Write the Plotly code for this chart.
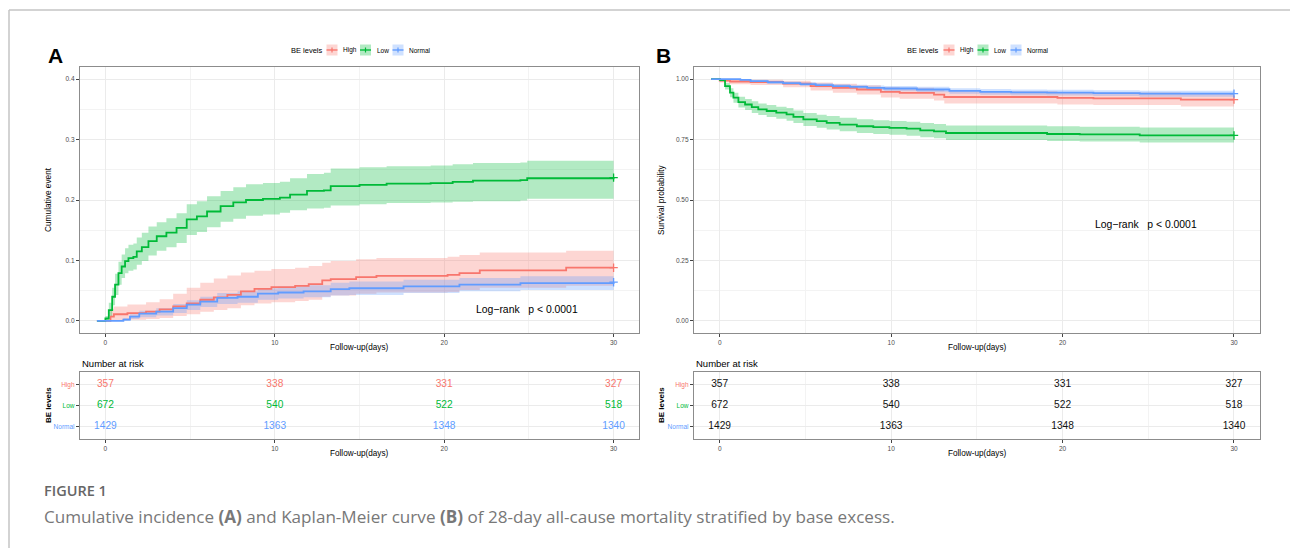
import plotly.graph_objects as go

W, H = 1290, 548

# ---------------- data ----------------
# Panel A: cumulative event
a_low_t = [-0.5, 0, 0.2, 0.4, 0.57, 0.77, 0.96, 1.16, 1.36, 1.65, 1.85, 2.15, 2.54, 3.03, 3.6, 4.2, 4.8, 5.4, 6.0, 6.8,
           7.55, 8.3, 9.3, 10.3, 10.9, 11.9, 12.9, 13.3, 15, 16.6, 19.2, 20.5, 21.7, 24.5, 24.9, 30]
a_low_v = [0.0, 0.004, 0.018, 0.040, 0.060, 0.079, 0.090, 0.099, 0.104, 0.106, 0.115, 0.122, 0.132, 0.140, 0.146, 0.154,
           0.168, 0.173, 0.181, 0.190, 0.196, 0.200, 0.202, 0.204, 0.209, 0.215, 0.216, 0.223, 0.225, 0.227, 0.228, 0.230,
           0.232, 0.233, 0.236, 0.237]
a_low_up = [0.0, 0.008, 0.030, 0.055, 0.078, 0.098, 0.110, 0.120, 0.126, 0.128, 0.138, 0.146, 0.156, 0.163, 0.170, 0.178,
            0.193, 0.198, 0.206, 0.215, 0.221, 0.226, 0.228, 0.230, 0.236, 0.243, 0.245, 0.252, 0.254, 0.256, 0.257, 0.259,
            0.261, 0.262, 0.265, 0.266]
a_low_lo = [0.0, 0.0, 0.008, 0.026, 0.043, 0.060, 0.071, 0.079, 0.083, 0.085, 0.093, 0.099, 0.108, 0.116, 0.122, 0.129,
            0.142, 0.147, 0.155, 0.164, 0.169, 0.174, 0.176, 0.179, 0.183, 0.186, 0.187, 0.191, 0.193, 0.195, 0.196, 0.197,
            0.198, 0.199, 0.202, 0.202]

a_high_t = [-0.5, 0.3, 0.5, 1.3, 2.4, 3.2, 4.0, 4.8, 5.6, 6.4, 7.2, 8.0, 8.8, 9.8, 11.2, 12.0, 12.8, 13.3, 14.8, 16.0,
            20.2, 20.9, 22.1, 27.2, 30]
a_high_v = [0.0, 0.007, 0.011, 0.013, 0.0155, 0.019, 0.024, 0.029, 0.035, 0.039, 0.043, 0.049, 0.053, 0.056, 0.058, 0.061,
            0.067, 0.069, 0.0725, 0.0745, 0.076, 0.079, 0.0835, 0.088, 0.088]
a_high_up = [0.0, 0.020, 0.024, 0.027, 0.031, 0.036, 0.045, 0.055, 0.063, 0.070, 0.075, 0.080, 0.083, 0.086, 0.088, 0.091,
             0.096, 0.099, 0.102, 0.104, 0.106, 0.109, 0.113, 0.116, 0.116]
a_high_lo = [0.0, 0.0, 0.001, 0.002, 0.003, 0.005, 0.008, 0.011, 0.015, 0.018, 0.021, 0.026, 0.029, 0.031, 0.033, 0.035,
             0.040, 0.042, 0.045, 0.047, 0.048, 0.051, 0.055, 0.058, 0.058]

a_norm_t = [-0.5, 1.06, 1.45, 2.0, 3.0, 4.0, 4.8, 5.6, 6.6, 7.8, 9.0, 10.2, 11.7, 13.3, 14.4, 17.6, 20.9, 24.5, 30]
a_norm_v = [0.0, 0.002, 0.007, 0.012, 0.0155, 0.021, 0.027, 0.032, 0.038, 0.040, 0.045, 0.047, 0.049, 0.0525, 0.054, 0.057,
            0.060, 0.0625, 0.064]
a_norm_up = [0.0, 0.005, 0.011, 0.017, 0.021, 0.028, 0.034, 0.040, 0.046, 0.049, 0.054, 0.057, 0.059, 0.063, 0.065, 0.068,
             0.071, 0.074, 0.076]
a_norm_lo = [0.0, 0.0, 0.003, 0.006, 0.009, 0.013, 0.018, 0.023, 0.028, 0.030, 0.035, 0.037, 0.039, 0.042, 0.043, 0.046,
             0.049, 0.051, 0.052]

# Panel B: survival probability
b_low_t = [-0.5, 0.02, 0.31, 0.6, 0.8, 1.09, 1.48, 1.87, 2.25, 2.74, 3.3, 3.9, 4.3, 4.88, 5.66, 6.24, 7.0, 8.0, 8.96, 9.9,
           10.9, 11.7, 12.5, 13.2, 19.1, 21.0, 24.5, 30]
b_low_v = [1.0, 0.996, 0.971, 0.944, 0.923, 0.905, 0.895, 0.884, 0.875, 0.868, 0.861, 0.854, 0.844, 0.833, 0.826, 0.819,
           0.812, 0.805, 0.801, 0.798, 0.795, 0.788, 0.784, 0.777, 0.773, 0.771, 0.767, 0.767]
b_low_up = [1.0, 1.0, 0.984, 0.962, 0.944, 0.927, 0.918, 0.908, 0.899, 0.893, 0.886, 0.880, 0.870, 0.860, 0.853, 0.847,
            0.840, 0.834, 0.830, 0.827, 0.824, 0.818, 0.814, 0.808, 0.805, 0.803, 0.800, 0.800]
b_low_lo = [1.0, 0.990, 0.957, 0.925, 0.902, 0.883, 0.872, 0.860, 0.851, 0.843, 0.836, 0.828, 0.818, 0.806, 0.799, 0.792,
            0.784, 0.777, 0.773, 0.770, 0.766, 0.759, 0.755, 0.748, 0.744, 0.742, 0.738, 0.738]

b_high_t = [-0.5, 0.0, 0.6, 1.8, 3.7, 5.3, 6.6, 8.0, 9.4, 10.5, 12.5, 13.1, 19.7, 21.8, 26.9, 30]
b_high_v = [1.0, 0.994, 0.990, 0.988, 0.981, 0.971, 0.964, 0.957, 0.947, 0.943, 0.936, 0.926, 0.922, 0.920, 0.915, 0.915]
b_high_up = [1.0, 1.0, 0.998, 0.997, 0.993, 0.986, 0.981, 0.975, 0.967, 0.964, 0.958, 0.950, 0.947, 0.945, 0.941, 0.941]
b_high_lo = [1.0, 0.986, 0.979, 0.976, 0.966, 0.953, 0.944, 0.936, 0.924, 0.919, 0.911, 0.899, 0.895, 0.893, 0.887, 0.887]

b_norm_t = [-0.5, 1.2, 1.8, 2.8, 3.7, 4.7, 5.6, 6.6, 7.6, 8.6, 9.6, 11.5, 13.4, 15.2, 17.0, 19.1, 21.8, 24.5, 30]
b_norm_v = [1.0, 0.997, 0.992, 0.987, 0.983, 0.979, 0.975, 0.971, 0.968, 0.964, 0.961, 0.957, 0.951, 0.947, 0.945, 0.944,
            0.942, 0.940, 0.940]
b_norm_up = [1.0, 1.0, 0.997, 0.993, 0.990, 0.987, 0.984, 0.980, 0.977, 0.974, 0.971, 0.968, 0.962, 0.959, 0.957, 0.956,
             0.954, 0.952, 0.952]
b_norm_lo = [1.0, 0.994, 0.987, 0.981, 0.976, 0.971, 0.966, 0.961, 0.958, 0.954, 0.950, 0.946, 0.939, 0.935, 0.933, 0.932,
             0.930, 0.927, 0.927]

# Number at risk
risk_times = [0, 10, 20, 30]
risk_high = [357, 338, 331, 327]
risk_low = [672, 540, 522, 518]
risk_normal = [1429, 1363, 1348, 1340]

groups = ["High", "Low", "Normal"]
colors = {"High": "#F8766D", "Low": "#00BA38", "Normal": "#619CFF"}
bands = {"High": "rgba(248,118,109,0.30)", "Low": "rgba(0,186,56,0.30)", "Normal": "rgba(97,156,255,0.30)"}

FONT = "Liberation Sans, Arial, sans-serif"


def px(x):
    return x / W


def py(y):
    return 1 - y / H


fig = go.Figure()


def add_panel(xa, ya, series):
    # bands first
    for g, (t, v, up, lo) in series.items():
        fig.add_trace(go.Scatter(x=t, y=lo, mode="lines", line=dict(width=0, shape="hv"),
                                 xaxis=xa, yaxis=ya, showlegend=False, hoverinfo="skip"))
        fig.add_trace(go.Scatter(x=t, y=up, mode="lines", line=dict(width=0, shape="hv"),
                                 fill="tonexty", fillcolor=bands[g],
                                 xaxis=xa, yaxis=ya, showlegend=False, hoverinfo="skip"))
    for g, (t, v, up, lo) in series.items():
        fig.add_trace(go.Scatter(x=t, y=v, mode="lines", line=dict(width=1.8, color=colors[g], shape="hv"),
                                 xaxis=xa, yaxis=ya, showlegend=False, name=g))
        fig.add_trace(go.Scatter(x=[t[-1]], y=[v[-1]], mode="markers",
                                 marker=dict(symbol="cross-thin", size=6, line=dict(width=1.3, color=colors[g])),
                                 xaxis=xa, yaxis=ya, showlegend=False))


add_panel("x", "y", {
    "High": (a_high_t, a_high_v, a_high_up, a_high_lo),
    "Low": (a_low_t, a_low_v, a_low_up, a_low_lo),
    "Normal": (a_norm_t, a_norm_v, a_norm_up, a_norm_lo),
})
add_panel("x2", "y2", {
    "High": (b_high_t, b_high_v, b_high_up, b_high_lo),
    "Low": (b_low_t, b_low_v, b_low_up, b_low_lo),
    "Normal": (b_norm_t, b_norm_v, b_norm_up, b_norm_lo),
})

row_pos = {"High": 3, "Low": 2, "Normal": 1}
risk = {"High": risk_high, "Low": risk_low, "Normal": risk_normal}
for g in groups:
    fig.add_trace(go.Scatter(x=risk_times, y=[row_pos[g]] * len(risk_times), mode="text",
                             text=[str(n) for n in risk[g]],
                             textfont=dict(family=FONT, size=10.2, color=colors[g]),
                             xaxis="x3", yaxis="y3", showlegend=False, hoverinfo="skip"))
    fig.add_trace(go.Scatter(x=risk_times, y=[row_pos[g]] * len(risk_times), mode="text",
                             text=[str(n) for n in risk[g]],
                             textfont=dict(family=FONT, size=10.2, color="#111111"),
                             xaxis="x4", yaxis="y4", showlegend=False, hoverinfo="skip"))

# ---------------- axes ----------------
A_X = [px(80), px(639)]
B_X = [px(694), px(1259.7)]
MAIN_Y = [py(333), py(67)]
TAB_Y = [py(439), py(372)]

grid_major = "#EBEBEB"
grid_minor = "#F3F3F3"
border = "#8C8C8C"
tickfont = dict(family=FONT, size=6.5, color="#4D4D4D")

common_x = dict(range=[-1.5, 31.5], tickvals=[0, 10, 20, 30], ticks="outside", ticklen=3, tickwidth=1,
                tickcolor="#444444", showline=True, mirror=True, linecolor=border, linewidth=1.3,
                showgrid=True, gridcolor=grid_major, gridwidth=1, zeroline=False, tickfont=tickfont,
                minor=dict(tickvals=[5, 15, 25], showgrid=True, gridcolor=grid_minor, gridwidth=0.7))

fig.update_layout(
    xaxis=dict(domain=A_X, anchor="y", **common_x),
    yaxis=dict(domain=MAIN_Y, anchor="x", range=[-0.02, 0.42], tickvals=[0, 0.1, 0.2, 0.3, 0.4],
               ticktext=["0.0", "0.1", "0.2", "0.3", "0.4"], ticks="outside", ticklen=3, tickcolor="#444444",
               showline=True, mirror=True, linecolor=border, linewidth=1.3, showgrid=True, gridcolor=grid_major,
               zeroline=False, tickfont=tickfont,
               minor=dict(tickvals=[0.05, 0.15, 0.25, 0.35], showgrid=True, gridcolor=grid_minor, gridwidth=0.7)),
    xaxis2=dict(domain=B_X, anchor="y2", **common_x),
    yaxis2=dict(domain=MAIN_Y, anchor="x2", range=[-0.05, 1.05], tickvals=[0, 0.25, 0.5, 0.75, 1.0],
                ticktext=["0.00", "0.25", "0.50", "0.75", "1.00"], ticks="outside", ticklen=3, tickcolor="#444444",
                showline=True, mirror=True, linecolor=border, linewidth=1.3, showgrid=True, gridcolor=grid_major,
                zeroline=False, tickfont=tickfont,
                minor=dict(tickvals=[0.125, 0.375, 0.625, 0.875], showgrid=True, gridcolor=grid_minor, gridwidth=0.7)),
    xaxis3=dict(domain=A_X, anchor="y3", **common_x),
    yaxis3=dict(domain=TAB_Y, anchor="x3", range=[0.4, 3.6], tickvals=[1, 2, 3],
                ticktext=['<span style="color:#619CFF">Normal</span>', '<span style="color:#00BA38">Low</span>',
                          '<span style="color:#F8766D">High</span>'],
                ticks="outside", ticklen=3, tickcolor="#444444", showline=True, mirror=True, linecolor=border,
                linewidth=1.3, showgrid=True, gridcolor=grid_major, zeroline=False, tickfont=tickfont),
    xaxis4=dict(domain=B_X, anchor="y4", **common_x),
    yaxis4=dict(domain=TAB_Y, anchor="x4", range=[0.4, 3.6], tickvals=[1, 2, 3],
                ticktext=['<span style="color:#619CFF">Normal</span>', '<span style="color:#00BA38">Low</span>',
                          '<span style="color:#F8766D">High</span>'],
                ticks="outside", ticklen=3, tickcolor="#444444", showline=True, mirror=True, linecolor=border,
                linewidth=1.3, showgrid=True, gridcolor=grid_major, zeroline=False, tickfont=tickfont),
)

# ---------------- annotations ----------------
ann = []


def text(x, y, s, size, color="#000000", xanchor="center", angle=0, family=FONT, weight=None):
    f = dict(family=family, size=size, color=color)
    if weight:
        f["weight"] = weight
    ann.append(dict(x=px(x), y=py(y), xref="paper", yref="paper", text=s, showarrow=False,
                    xanchor=xanchor, yanchor="middle", textangle=angle, font=f))


# panel letters
text(55, 55, "<b>A</b>", 21)
text(663, 55, "<b>B</b>", 21)

# axis titles
text(48, 200, "Cumulative event", 8.3, angle=-90)
text(661, 200, "Survival probability", 8.3, angle=-90)
text(359.5, 347, "Follow-up(days)", 8.2)
text(977, 347, "Follow-up(days)", 8.2)
text(359.5, 453, "Follow-up(days)", 8.2)
text(977, 453, "Follow-up(days)", 8.2)
text(48, 405, "<b>BE levels</b>", 8, angle=-90)
text(661, 405, "<b>BE levels</b>", 8, angle=-90)
text(80, 363, "Number at risk", 9.5, xanchor="left")
text(694, 363, "Number at risk", 9.5, xanchor="left")

# log-rank
text(526.5, 309, "Log\u2212rank   p < 0.0001", 10.4)
text(1146, 224.5, "Log\u2212rank   p < 0.0001", 10.4)

# legends (drawn manually)
shapes = []


def legend(x0, keys):
    text(x0, 50, "BE levels", 7.5, xanchor="left")
    for g, kx, tx in keys:
        shapes.append(dict(type="rect", xref="paper", yref="paper", x0=px(kx), x1=px(kx + 11), y0=py(55.5),
                           y1=py(44.5), fillcolor=bands[g], line=dict(width=0)))
        shapes.append(dict(type="line", xref="paper", yref="paper", x0=px(kx), x1=px(kx + 11), y0=py(50),
                           y1=py(50), line=dict(color=colors[g], width=1.4)))
        shapes.append(dict(type="line", xref="paper", yref="paper", x0=px(kx + 5.5), x1=px(kx + 5.5), y0=py(47.5),
                           y1=py(52.5), line=dict(color=colors[g], width=1.2)))
        text(tx, 50, g, 6.5, xanchor="left")


legend(288.5, [("High", 326.5, 340.5), ("Low", 360, 374.5), ("Normal", 392.5, 407)])
legend(905, [("High", 943.5, 957.5), ("Low", 977.5, 992), ("Normal", 1010.5, 1025)])

# caption
text(42, 490.5, "FIGURE 1", 14.5, color="#666666", xanchor="left", family="Open Sans, sans-serif", weight=600)
text(42, 516.5, "Cumulative incidence <b>(A)</b> and Kaplan-Meier curve <b>(B)</b> of 28-day all-cause mortality "
                "stratified by base excess.", 17.1, color="#787878", xanchor="left", family="Open Sans, sans-serif")

# outer frame
shapes.append(dict(type="line", xref="paper", yref="paper", x0=px(9), x1=1, y0=py(10), y1=py(10),
                   line=dict(color="#C4C4C4", width=1.5)))
shapes.append(dict(type="line", xref="paper", yref="paper", x0=px(9), x1=px(9), y0=py(10), y1=0,
                   line=dict(color="#C4C4C4", width=1.5)))

fig.update_layout(width=W, height=H, margin=dict(l=0, r=0, t=0, b=0), paper_bgcolor="white",
                  plot_bgcolor="white", annotations=ann, shapes=shapes, showlegend=False)

fig.write_html("out.html")
